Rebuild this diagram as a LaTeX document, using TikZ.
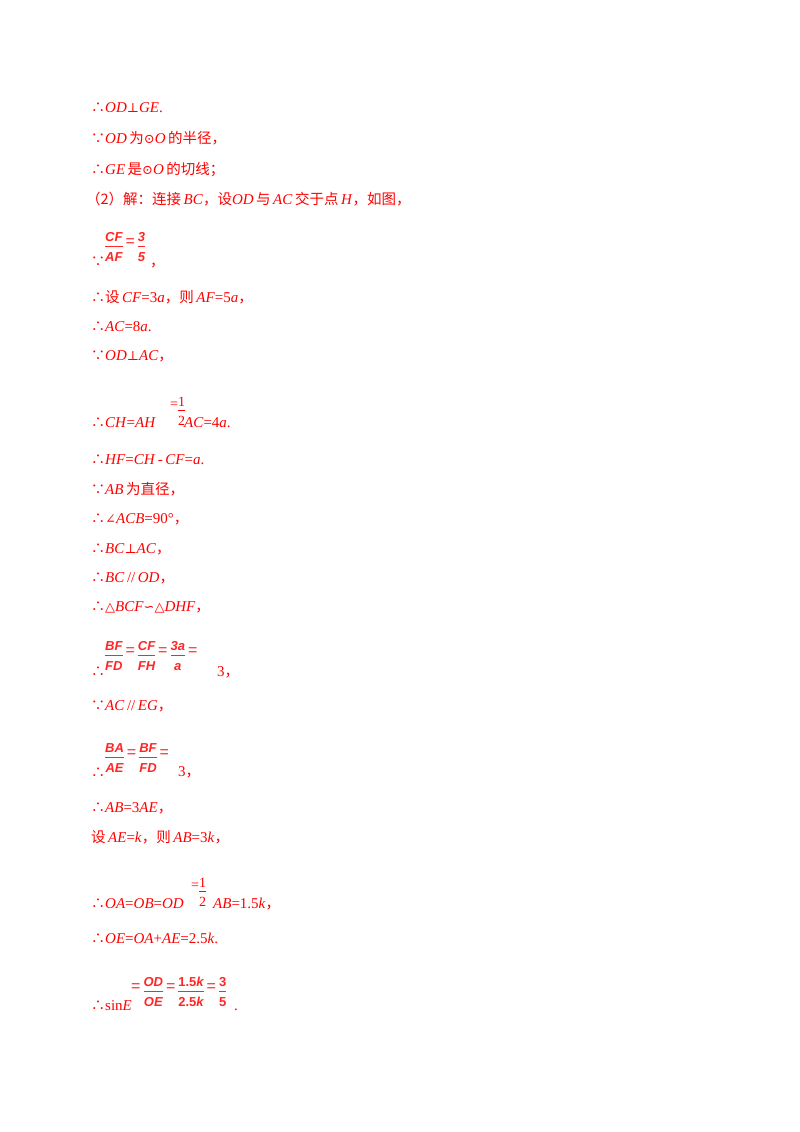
\documentclass[tikz,border=0pt]{standalone}
\usepackage{fontspec}
\setmainfont{Liberation Serif}
\newfontfamily\cjk{Noto Sans CJK SC}
\newfontfamily\sym{DejaVu Serif}
\newfontfamily\fr{Liberation Sans}
\newcommand\Tf{{\cjk\fontsize{14}{14}\selectfont ∴}}
\newcommand\Bc{{\cjk\fontsize{14}{14}\selectfont ∵}}
\newcommand\Sy[1]{{\sym\fontsize{13}{13}\selectfont #1}}
\newcommand\C[1]{{\cjk\fontsize{14.5}{15}\selectfont #1}}
\newcommand\I[1]{\textit{#1}}
\newcommand\Fr[2]{\begin{tabular}{@{}c@{}}\rule{0pt}{13pt}#1\\[0pt]\hline\rule{0pt}{15pt}#2\end{tabular}}
\newcommand\Eq{\hspace{3pt}\raisebox{4pt}{\upshape\mdseries\fontsize{16}{16}\selectfont=}\hspace{3pt}}
\begin{document}
\begin{tikzpicture}[x=1pt,y=-1pt,
  ln/.style={anchor=base west,inner sep=0pt,text=red,font=\fontsize{15}{17}\selectfont},
  fr/.style={anchor=west,inner sep=0pt,text=red!85!white,font=\fr\bfseries\itshape\fontsize{13}{14}\selectfont},
  sm/.style={anchor=base west,inner sep=0pt,text=red,font=\fontsize{14}{14}\selectfont}]
\useasboundingbox (0,0) rectangle (800,1132);
\node[ln] (l1) at (91,112) {\Tf\I{OD}\Sy{⊥}\I{GE}.};
\node[ln] (l2) at (91,143) {\Bc\I{OD}\,\C{为}\Sy{⊙}\I{O}\,\C{的半径，}};
\node[ln] (l3) at (91,174) {\Tf\I{GE}\,\C{是}\Sy{⊙}\I{O}\,\C{的切线；}};
\node[ln] (l4) at (86,204) {\C{（2）解：连接}\,\I{BC}\C{，设}\I{OD}\,\C{与}\,\I{AC}\,\C{交于点}\,\I{H}\C{，如图，}};
\node[ln] (l5a) at (91,266) {\Bc};
\node[fr] (l5b) at (105,247) {\Fr{CF}{AF}\Eq\Fr{3}{5}};
\node[ln] (l5c) at (150,266) {\C{，}};
\node[ln] (l6) at (91,302) {\Tf\C{设}\,\I{CF}=3\I{a}\C{，则}\,\I{AF}=5\I{a}\C{，}};
\node[ln] (l7) at (91,331) {\Tf\I{AC}=8\I{a}.};
\node[ln] (l8) at (91,360) {\Bc\I{OD}\Sy{⊥}\I{AC}\C{，}};
\node[ln] (l9a) at (91,427) {\Tf\I{CH}=\I{AH}};
\node[sm] (l9b) at (170,408) {=\raisebox{-7pt}{\Fr{1}{2}}};
\node[ln] (l9c) at (184,427) {\I{AC}=4\I{a}.};
\node[ln] (l10) at (91,464) {\Tf\I{HF}=\I{CH}\,-\,\I{CF}=\I{a}.};
\node[ln] (l11) at (91,494) {\Bc\I{AB}\,\C{为直径，}};
\node[ln] (l12) at (91,523) {\Tf\Sy{∠}\I{ACB}=90°\C{，}};
\node[ln] (l13) at (91,553) {\Tf\I{BC}\Sy{⊥}\I{AC}\C{，}};
\node[ln] (l14) at (91,582) {\Tf\I{BC}\,//\,\I{OD}\C{，}};
\node[ln] (l15) at (91,611) {\Tf\Sy{△}\I{BCF}\Sy{∽}\Sy{△}\I{DHF}\C{，}};
\node[ln] (l16a) at (91,676) {\Tf};
\node[fr] (l16b) at (105,656) {\Fr{BF}{FD}\Eq\Fr{CF}{FH}\Eq\Fr{3a}{a}\Eq};
\node[ln] (l16c) at (217,676) {3\C{，}};
\node[ln] (l17) at (91,710) {\Bc\I{AC}\,//\,\I{EG}\C{，}};
\node[ln] (l18a) at (91,777) {\Tf};
\node[fr] (l18b) at (105,758) {\Fr{BA}{AE}\Eq\Fr{BF}{FD}\Eq};
\node[ln] (l18c) at (178,776) {3\C{，}};
\node[ln] (l19) at (91,812) {\Tf\I{AB}=3\I{AE}\C{，}};
\node[ln] (l20) at (91,842) {\C{设}\,\I{AE}=\I{k}\C{，则}\,\I{AB}=3\I{k}\C{，}};
\node[ln] (l21a) at (91,908) {\Tf\I{OA}=\I{OB}=\I{OD}};
\node[sm] (l21b) at (191,889) {=\raisebox{-7pt}{\Fr{1}{2}}};
\node[ln] (l21c) at (213,908) {\I{AB}=1.5\I{k}\C{，}};
\node[ln] (l22) at (91,943) {\Tf\I{OE}=\I{OA}+\I{AE}=2.5\I{k}.};
\node[ln] (l23a) at (91,1010) {\Tf sin\I{E}};
\node[fr] (l23b) at (128,992) {\Eq\Fr{OD}{OE}\Eq\Fr{\upshape1.5\itshape k}{\upshape2.5\itshape k}\Eq\Fr{\upshape3}{\upshape5}};
\node[ln] (l23c) at (234,1010) {.};
\end{tikzpicture}
\end{document}
